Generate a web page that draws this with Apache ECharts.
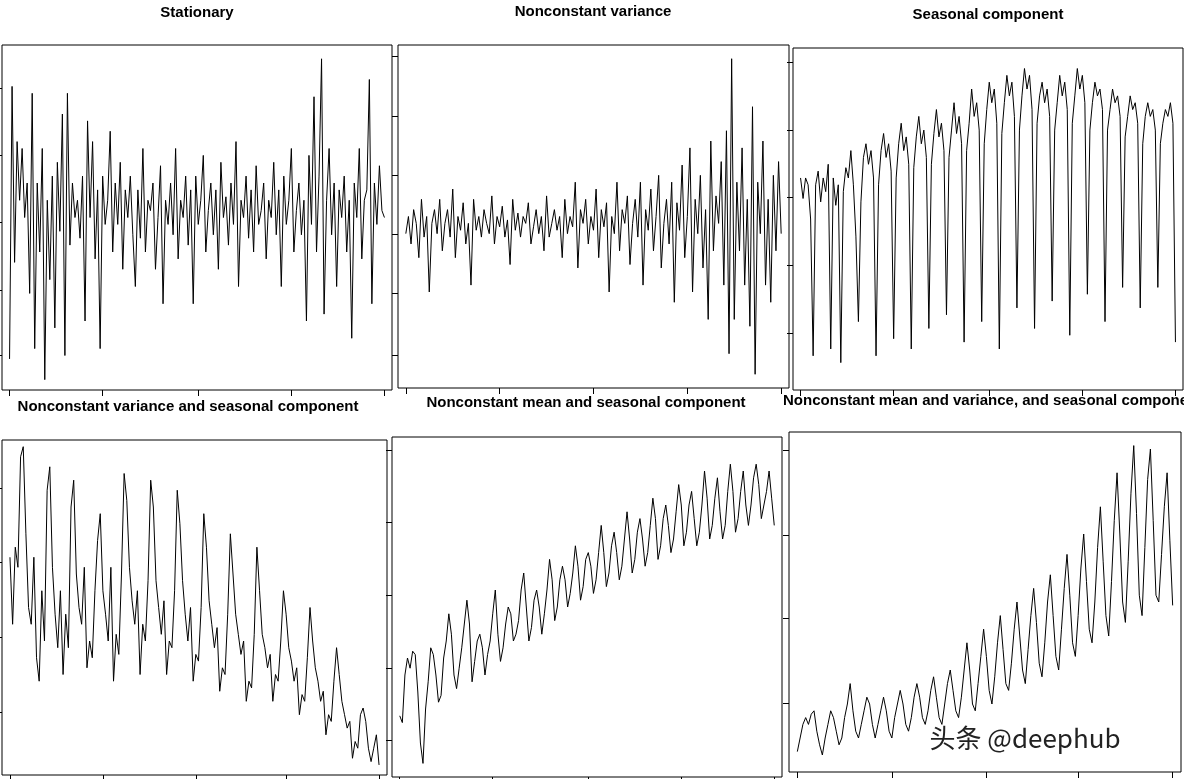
<!DOCTYPE html>
<html>
<head>
    <meta charset="utf-8" />
    <title>Time series examples</title>
    <script src="https://cdn.jsdelivr.net/npm/echarts@6/dist/echarts.min.js"></script>
    <style>
        html, body { margin: 0; padding: 0; background: #fff; }
        #chart { width: 1184px; height: 779px; }
    </style>
</head>
<body>
<div id="chart"></div>
<script>
    // data, in percent of panel height
    var stationary = [9,88,37,72,55,70,50,60,28,86,12,60,40,70,3,55,32,62,18,66,46,80,10,86,42,60,50,55,44,62,20,78,50,72,38,58,12,62,48,55,75,40,60,48,66,35,58,50,62,45,30,58,44,70,40,55,52,60,35,50,65,25,55,48,60,45,70,38,55,50,62,42,58,25,62,48,55,68,40,52,60,45,58,35,66,50,56,42,60,48,72,30,55,50,62,44,58,40,65,48,52,60,38,55,50,66,45,58,30,62,48,55,70,40,52,60,45,55,20,68,48,85,40,62,96,22,55,70,45,60,30,58,50,62,40,55,15,60,50,70,38,55,58,90,25,60,48,65,52,50];
    var nonconstVar = [45,50,42,52,48,38,55,44,50,28,48,52,45,55,40,48,52,44,58,38,50,46,54,42,48,30,55,46,50,44,52,48,45,56,42,50,47,53,44,49,36,55,46,51,44,50,48,54,42,47,52,45,50,40,56,44,48,52,46,50,38,55,45,50,47,60,35,52,48,55,42,50,46,58,38,52,47,54,28,50,45,60,40,52,48,56,36,48,55,44,60,30,52,46,58,40,50,62,35,48,55,42,60,25,54,46,65,38,50,70,28,55,45,62,35,52,20,72,40,56,48,66,30,75,10,96,20,60,40,70,30,55,18,82,4,60,45,72,30,55,25,62,40,66,45];
    var seasonal = [62,56,62,60,50,10,60,64,55,62,58,66,12,62,54,60,8,58,65,62,70,60,45,20,55,68,72,66,70,62,10,60,70,75,68,72,64,15,62,72,78,70,74,66,12,65,74,80,72,76,68,18,66,75,82,74,78,70,22,68,76,84,75,80,72,14,70,78,88,80,84,76,20,72,82,90,84,88,78,12,75,84,92,86,90,80,24,76,86,94,88,92,82,18,78,86,90,84,88,80,26,76,84,92,86,90,82,16,78,86,94,88,92,84,28,76,84,90,86,88,82,20,76,82,88,84,86,80,30,74,80,86,82,84,78,24,72,80,84,80,82,76,30,72,78,82,80,84,78,14];
    var varSeasonal = [65,45,68,62,95,98,72,50,45,65,35,28,55,40,85,92,62,48,38,55,30,48,38,80,88,60,50,45,62,32,40,35,55,70,78,55,48,40,62,28,42,36,60,90,82,62,52,45,55,30,45,40,58,88,80,58,50,42,52,30,40,38,55,85,75,58,48,40,50,28,36,34,50,78,68,52,45,38,44,25,32,30,48,72,60,48,42,36,40,22,28,26,42,68,55,42,38,32,36,22,30,28,40,55,48,38,34,28,32,18,24,22,35,50,40,32,28,22,25,12,18,16,28,38,30,22,18,14,16,5,10,8,18,20,16,8,4,8,12,3];
    var meanSeasonal = [18,16,30,35,32,37,36,25,10,4,20,28,38,36,30,22,24,35,40,48,42,30,26,32,38,45,52,45,28,34,40,42,38,30,36,40,48,55,42,34,38,45,50,48,40,42,46,55,60,50,40,44,52,55,50,42,48,55,64,58,46,50,58,62,58,50,54,60,68,62,52,56,64,66,62,54,58,66,74,66,56,60,68,72,66,58,62,70,78,70,60,64,72,76,70,62,66,74,82,76,64,68,76,80,74,66,70,78,86,80,68,72,80,84,76,68,72,80,90,82,70,74,82,88,78,70,74,84,92,84,72,76,84,90,80,74,80,88,92,86,76,80,84,90,82,74];
    var meanVarSeasonal = [6,10,14,16,14,17,18,12,8,5,10,14,18,16,12,8,10,16,20,26,18,12,10,14,18,22,20,14,10,14,18,22,18,12,10,16,20,24,20,14,12,16,22,26,22,16,14,18,24,28,22,16,14,20,26,30,24,18,16,22,30,38,30,20,18,26,34,42,34,24,20,28,38,46,36,26,24,32,42,50,40,30,26,36,46,54,44,32,28,38,50,58,46,34,30,42,54,64,52,38,34,46,60,70,56,42,38,50,66,78,62,46,40,56,74,88,70,50,44,62,82,96,76,52,46,66,86,95,74,52,50,64,78,88,68,49];

    var titles = ['Stationary', 'Nonconstant variance', 'Seasonal component',
        'Nonconstant variance and seasonal component', 'Nonconstant mean and seasonal component',
        'Nonconstant mean and variance, and seasonal component'];
    var seriesList = [stationary, nonconstVar, seasonal, varSeasonal, meanSeasonal, meanVarSeasonal];
    var yTicks = [
        [10.1, 29, 48.7, 68.1, 87.5],
        [9.6, 27.7, 44.9, 62.1, 79.3, 96.8],
        [16.7, 36.5, 56.4, 76, 95.9],
        [18.8, 41.2, 63.6, 85.7],
        [10.9, 32, 53.5, 75, 96.2],
        [20.3, 45.3, 69.7, 94.7]
    ];

    // panel boxes: left, top, width, height
    var boxes = [
        [2, 45, 390, 345], [398, 45, 391, 343], [793, 48, 390, 342],
        [2, 440, 385, 335], [392, 437, 390, 340], [789, 432, 392, 340]
    ];
    var titlePos = [
        { left: 197, top: 5, center: true }, { left: 593, top: 4, center: true }, { left: 988, top: 7, center: true },
        { left: 188, top: 399, center: true }, { left: 586, top: 395, center: true }, { left: 783, top: 393, center: false }
    ];

    var grids = [], xAxes = [], yAxes = [], series = [], graphics = [];
    seriesList.forEach(function (arr, i) {
        var b = boxes[i], n = arr.length - 1;
        grids.push({ left: b[0], top: b[1], width: b[2], height: b[3], show: true,
            borderColor: '#000', borderWidth: 1, backgroundColor: '#fff' });
        xAxes.push({ type: 'value', gridIndex: i, min: -3, max: n + 3,
            axisLine: { show: false, onZero: false }, splitLine: { show: false }, axisLabel: { show: false },
            axisTick: { show: true, inside: false, length: 6, lineStyle: { color: '#000' },
                customValues: [0, Math.round(n / 4), Math.round(n / 2), Math.round(3 * n / 4), n] } });
        yAxes.push({ type: 'value', gridIndex: i, min: 0, max: 100,
            axisLine: { show: false, onZero: false }, splitLine: { show: false }, axisLabel: { show: false },
            axisTick: { show: true, inside: false, length: 6, lineStyle: { color: '#000' }, customValues: yTicks[i] } });
        series.push({ type: 'line', xAxisIndex: i, yAxisIndex: i, showSymbol: false, animation: false,
            lineStyle: { color: '#000', width: 1 },
            data: arr.map(function (v, k) { return [k, v]; }) });
        var t = titlePos[i];
        graphics.push({ type: 'text', left: t.center ? undefined : t.left, x: t.center ? t.left : undefined,
            top: t.top,
            style: { text: titles[i], font: 'bold 15px "Liberation Sans", Arial, sans-serif', fill: '#000',
                textAlign: t.center ? 'center' : 'left' } });
    });
    graphics.push({ type: 'text', left: 928, top: 724,
        style: { text: '头条 @deephub', font: '26px "Noto Sans CJK SC", sans-serif', fill: '#222',
            stroke: '#fff', lineWidth: 3 } });

    var chart = echarts.init(document.getElementById('chart'));
    chart.setOption({
        animation: false,
        grid: grids,
        xAxis: xAxes,
        yAxis: yAxes,
        series: series,
        graphic: graphics
    });
</script>
</body>
</html>
